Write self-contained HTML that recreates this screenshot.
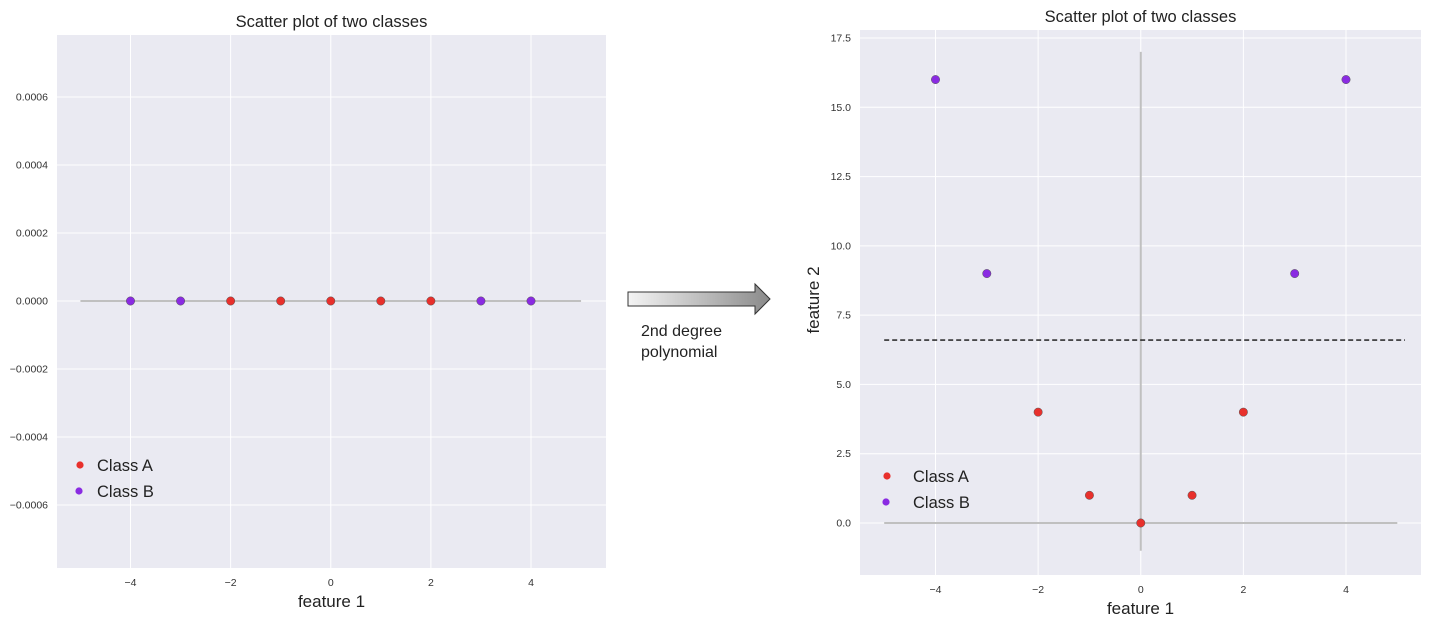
<!DOCTYPE html>
<html><head><meta charset="utf-8"><style>
body{margin:0;background:#fff;}
svg{display:block;font-family:"Liberation Sans",Arial,sans-serif;}
</style></head><body>
<svg id="s" width="1429" height="625" viewBox="0 0 1429 625" xmlns="http://www.w3.org/2000/svg">
<defs><linearGradient id="ag" x1="0" y1="0" x2="1" y2="0"><stop offset="0" stop-color="#f4f4f4"/><stop offset="1" stop-color="#8a8a8a"/></linearGradient></defs>
<g>
<polygon points="628,292 755,292 755,284 770,299 755,314 755,306 628,306" fill="url(#ag)" stroke="#333" stroke-width="1"/>
</g>
<text x="641" y="336" font-size="16" fill="#222">2nd degree</text>
<text x="641" y="357" font-size="16" fill="#222">polynomial</text>
</svg>
<script>
const xValues = [-4,-3,-2,-1,0,1,2,3,4];
const classes = ['B','B','A','A','A','A','A','B','B'];
const leftY = [0,0,0,0,0,0,0,0,0];
const rightY = [16,9,4,1,0,1,4,9,16];
const xTicks = [-4,-2,0,2,4];
const leftYTicks = [-0.0006,-0.0004,-0.0002,0,0.0002,0.0004,0.0006];
const leftYTickLabels = ['\u22120.0006','\u22120.0004','\u22120.0002','0.0000','0.0002','0.0004','0.0006'];
const rightYTicks = [0,2.5,5,7.5,10,12.5,15,17.5];
const rightYTickLabels = ['0.0','2.5','5.0','7.5','10.0','12.5','15.0','17.5'];
const xTickLabels = ['\u22124','\u22122','0','2','4'];
const boundaryY = [6.6];
const colors = {A:'#e8302c',B:'#8a2be2'};
const svg = document.getElementById('s');
const NS='http://www.w3.org/2000/svg';
function mk(tag,attrs,parent){const e=document.createElementNS(NS,tag);for(const k in attrs)e.setAttribute(k,attrs[k]);(parent||svg).appendChild(e);return e;}

function panel(cfg){
  const g=mk('g',{});
  
  
  const sx=v=>cfg.x0+(v-cfg.xa)*(cfg.x1-cfg.x0)/(cfg.xb-cfg.xa);
  const sy=v=>cfg.y0+(v-cfg.ya)*(cfg.y1-cfg.y0)/(cfg.yb-cfg.ya);
  const bg=mk('rect',{x:cfg.L,y:cfg.T,width:cfg.R-cfg.L,height:cfg.B-cfg.T,fill:'#eaeaf2'},g);
  
  
  xTicks.forEach((t,i)=>{
    const x=sx(t);
    const l=mk('line',{x1:x,x2:x,y1:cfg.T,y2:cfg.B,stroke:'#fff','stroke-width':1},g);
    
    
    const tx=mk('text',{x:x,y:cfg.B+18,'font-size':10.5,fill:'#333','text-anchor':'middle'},g);
    tx.textContent=xTickLabels[i];
    
    
  });
  cfg.yTicks.forEach((t,i)=>{
    const y=sy(t);
    const l=mk('line',{x1:cfg.L,x2:cfg.R,y1:y,y2:y,stroke:'#fff','stroke-width':1},g);
    
    
    const tx=mk('text',{x:cfg.L-9,y:y+3.5,'font-size':10.5,fill:'#333','text-anchor':'end'},g);
    tx.textContent=cfg.yLabels[i];
    
    
  });
  const h=mk('line',{x1:sx(-5),x2:sx(5),y1:sy(0),y2:sy(0),stroke:'#c0c0c0','stroke-width':2},g);
  
  
  if(cfg.vline){
    const v=mk('line',{x1:sx(0),x2:sx(0),y1:sy(-1),y2:sy(17),stroke:'#c0c0c0','stroke-width':2},g);
    
    
    const d=mk('line',{x1:sx(-5),x2:sx(5.15),y1:sy(boundaryY[0]),y2:sy(boundaryY[0]),stroke:'#111','stroke-width':1.3,'stroke-dasharray':'5,3'},g);
    
    
  }
  xValues.forEach((xv,i)=>{
    const c=mk('circle',{cx:sx(xv),cy:sy(cfg.ys[i]),r:4.2,fill:colors[classes[i]],stroke:'#555','stroke-width':0.5},g);
    
    
  });
  const tt=mk('text',{x:(cfg.L+cfg.R)/2,y:cfg.T-8,'font-size':16.5,fill:'#222','text-anchor':'middle'},g);
  tt.textContent='Scatter plot of two classes';
  
  
  const xl=mk('text',{x:(cfg.L+cfg.R)/2,y:cfg.B+39,'font-size':17,fill:'#222','text-anchor':'middle'},g);
  xl.textContent='feature 1';
  
  
  if(cfg.ylab){
    const yl=mk('text',{x:0,y:0,'font-size':17,fill:'#222','text-anchor':'middle',transform:'translate('+cfg.ylab[0]+','+cfg.ylab[1]+') rotate(-90)'},g);
    yl.textContent='feature 2';
    
    
  }
  const lg=mk('g',{},g);
  
  
  ['A','B'].forEach((k,i)=>{
    const c=mk('circle',{cx:cfg.leg[0]+(i?-1:0),cy:cfg.leg[1]+i*26,r:3.6,fill:colors[k]},lg);
    
    
    const t=mk('text',{x:cfg.leg[0]+cfg.legOff,y:cfg.leg[1]+i*26+6,'font-size':16.5,fill:'#222'},lg);
    t.textContent='Class '+k;
    
    
  });
}
panel({name:'left-chart',L:57,R:606,T:35,B:568,xa:-4,xb:4,x0:130.5,x1:531,ya:0,yb:0.0006,y0:301,y1:97,
  yTicks:leftYTicks,yLabels:leftYTickLabels,ys:leftY,vline:false,leg:[80,465],legOff:17});
panel({name:'right-chart',L:860,R:1421,T:30,B:575,xa:-4,xb:4,x0:935.5,x1:1346,ya:0,yb:17.5,y0:523,y1:38,
  yTicks:rightYTicks,yLabels:rightYTickLabels,ys:rightY,vline:true,ylab:[819,300],leg:[887,476],legOff:26});
</script>
</body></html>
